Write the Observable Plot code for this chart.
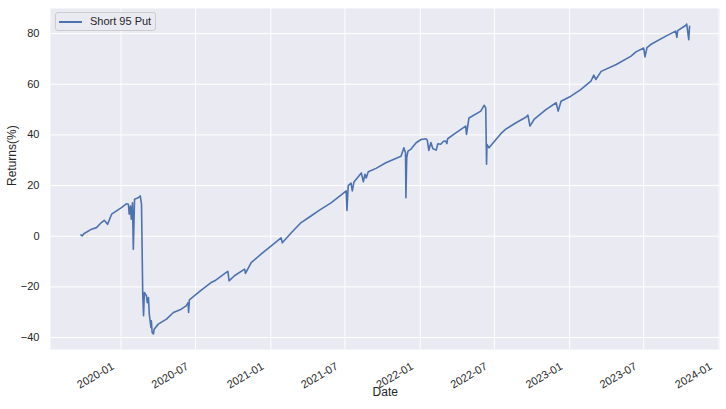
<!DOCTYPE html>
<html>
<head>
<meta charset="utf-8">
<script src="https://cdn.jsdelivr.net/npm/d3@7"></script>
<script src="https://cdn.jsdelivr.net/npm/@observablehq/plot@0.6"></script>
<style>
  body { margin: 0; background: white; }
  #wrap { position: relative; width: 726px; height: 409px; font-family: "Liberation Sans", Arial, sans-serif; }
  #legend {
    position: absolute; left: 55px; top: 12px; width: 101px; height: 19px;
    background: rgba(234,234,242,0.8); border: 1px solid #cccccc; border-radius: 3px;
    font-size: 11px; color: #262626; box-sizing: border-box;
  }
  #legend .swatch { position: absolute; left: 3px; top: 8px; width: 23px; height: 0; border-top: 2px solid #4C72B0; }
  #legend .lab { position: absolute; left: 34px; top: 2px; white-space: nowrap; }
</style>
</head>
<body>
<div id="wrap">
  <div id="chart"></div>
  <div id="legend"><span class="swatch"></span><span class="lab">Short 95 Put</span></div>
</div>
<script>
const dates = [
  "2019-09-25","2019-09-28","2019-10-02","2019-10-21","2019-11-02","2019-11-14","2019-11-21","2019-11-29",
  "2019-12-09","2019-12-21","2020-01-02","2020-01-14","2020-01-19","2020-01-21","2020-01-24","2020-01-26",
  "2020-01-29","2020-01-31","2020-02-03","2020-02-12","2020-02-17","2020-02-20","2020-02-23","2020-02-25",
  "2020-02-27","2020-03-03","2020-03-05","2020-03-08","2020-03-10","2020-03-14","2020-03-15","2020-03-17",
  "2020-03-20","2020-03-22","2020-04-01","2020-04-21","2020-05-08","2020-05-27","2020-06-08","2020-06-13",
  "2020-06-14","2020-06-16","2020-07-03","2020-07-15","2020-08-08","2020-08-17","2020-09-14","2020-09-18",
  "2020-09-21","2020-10-04","2020-10-29","2020-10-31","2020-11-14","2020-12-08","2021-01-02","2021-01-26",
  "2021-01-29","2021-02-20","2021-03-16","2021-04-09","2021-04-29","2021-05-28","2021-06-22","2021-07-04",
  "2021-07-06","2021-07-09","2021-07-16","2021-07-19","2021-07-23","2021-08-10","2021-08-15","2021-08-19",
  "2021-08-22","2021-08-27","2021-09-15","2021-10-09","2021-11-15","2021-11-22","2021-11-26","2021-11-27",
  "2021-11-29","2021-12-02","2021-12-09","2021-12-22","2022-01-03","2022-01-15","2022-01-18","2022-01-22",
  "2022-01-27","2022-02-01","2022-02-09","2022-02-13","2022-02-20","2022-02-27","2022-03-04","2022-03-07",
  "2022-03-09","2022-03-29","2022-04-22","2022-04-24","2022-04-30","2022-05-29","2022-06-06","2022-06-10",
  "2022-06-12","2022-06-13","2022-06-18","2022-07-05","2022-07-17","2022-07-29","2022-08-23","2022-09-16",
  "2022-09-21","2022-09-26","2022-10-06","2022-11-04","2022-11-29","2022-12-04","2022-12-11","2023-01-04",
  "2023-01-28","2023-02-22","2023-03-01","2023-03-06","2023-03-19","2023-04-25","2023-05-31","2023-06-12",
  "2023-07-01","2023-07-04","2023-07-09","2023-07-18","2023-08-24","2023-09-17","2023-09-20","2023-09-22",
  "2023-10-12","2023-10-14","2023-10-19","2023-10-21"
];
const returns = [
  0.5, 0.1, 1, 2.8, 3.4, 5.4, 6.3, 4.7,
  8.7, 10, 11.3, 12.8, 12.6, 8.7, 11.9, 6.7,
  13.2, -5.1, 14.6, 15.2, 15.9, 12.6, -22.9, -31.4,
  -22.2, -23.5, -26.2, -24.2, -30.7, -36, -33.4, -38,
  -38.6, -36.7, -34.7, -32.7, -30.1, -28.8, -27.5, -26.2,
  -30.1, -25.1, -22.9, -21.3, -18.3, -17.6, -14.3, -13.9,
  -17.6, -15.6, -13, -14.7, -10.4, -7.1, -3.8, -0.6,
  -2.6, 1.4, 5.4, 8, 10.2, 13.2, 16.3, 17.9,
  10.2, 20, 21, 17.9, 21.4, 25, 21.5, 24.5,
  23, 25.5, 26.8, 29, 31.6, 34.9, 33, 15.2,
  31, 33.6, 34.3, 36.9, 38.2, 38.5, 38, 33.9,
  37, 34.5, 34, 36.5, 36.3, 37.5, 37.6, 36.6,
  38.5, 40.8, 43.5, 40.2, 46.7, 49.4, 51.7, 50.7,
  28.4, 36.3, 34.9, 38.2, 40.5, 42.3, 44.8, 47,
  47.8, 43.5, 46.1, 50, 52.7, 49.4, 53.3, 55.3,
  57.9, 61.2, 63.6, 61.9, 65.1, 67.8, 71.1, 72.8,
  74.3, 70.8, 74.5, 75.7, 79, 81, 78.5, 81.2,
  83.3, 83.8, 77.6, 82.9
];
const xTickLabels = ["2020-01","2020-07","2021-01","2021-07","2022-01","2022-07","2023-01","2023-07","2024-01"];
const yTicks = [-40, -20, 0, 20, 40, 60, 80];

const data = dates.map((d, i) => ({date: new Date(d), value: returns[i]}));
const xTicks = xTickLabels.map(s => new Date(s + "-01"));

// matplotlib style 5% margins
const xe = d3.extent(data, d => d.date);
const xpad = (xe[1] - xe[0]) * 0.05;
const ye = d3.extent(data, d => d.value);
const ypad = (ye[1] - ye[0]) * 0.05;

const chart = Plot.plot({
  width: 726,
  height: 409,
  marginLeft: 50,
  marginRight: 6.5,
  marginTop: 8,
  marginBottom: 60,
  style: {
    background: "white",
    color: "#262626",
    fontFamily: "'Liberation Sans', Arial, sans-serif",
    fontSize: "11px",
  },
  x: {type: "utc", domain: [new Date(+xe[0] - xpad), new Date(+xe[1] + xpad)]},
  y: {domain: [ye[0] - ypad, ye[1] + ypad]},
  marks: [
    Plot.frame({fill: "#EAEAF2", stroke: null}),
    Plot.gridX(xTicks, {stroke: "white", strokeOpacity: 1, strokeWidth: 1}),
    Plot.gridY(yTicks, {stroke: "white", strokeOpacity: 1, strokeWidth: 1}),
    Plot.axisX(xTicks, {
      tickSize: 0, tickPadding: 10, tickRotate: -30, dx: -8, dy: 6,
      tickFormat: d3.utcFormat("%Y-%m"), label: null, fontSize: 11
    }),
    Plot.axisY(yTicks, {tickSize: 0, tickPadding: 11, label: null, fontSize: 11}),
    Plot.text(["Date"], {frameAnchor: "bottom", dy: 46, text: d => d, fontSize: 12}),
    Plot.text(["Returns(%)"], {frameAnchor: "left", dx: -38, dy: 7, rotate: -90, text: d => d, fontSize: 12}),
    Plot.line(data, {x: "date", y: "value", stroke: "#4C72B0", strokeWidth: 1.6})
  ]
});

d3.select("#chart").append(() => chart);
</script>
</body>
</html>
